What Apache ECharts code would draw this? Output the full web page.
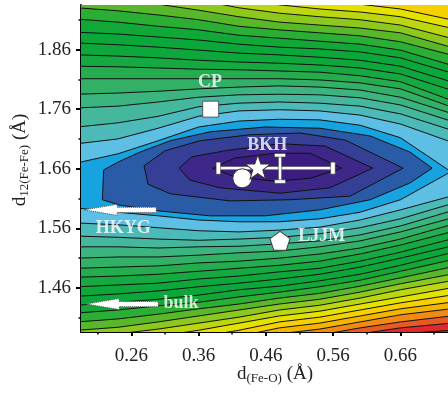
<!DOCTYPE html>
<html><head><meta charset="utf-8">
<script src="https://cdn.jsdelivr.net/npm/echarts@6/dist/echarts.min.js"></script>
<style>html,body{margin:0;padding:0;background:#fff}#c{width:448px;height:393px}</style>
</head><body><div id="c"></div>
<script>
// ---- data ----
const xCols = [0.18, 0.24, 0.30, 0.36, 0.42, 0.48, 0.54, 0.60, 0.66, 0.735];
// open contour levels k=5..21, upper branch (above the minimum), y at xCols
const upperLines = [
 [1.670,1.685,1.707,1.730,1.740,1.743,1.742,1.733,1.712,1.655],
 [1.702,1.710,1.728,1.748,1.757,1.759,1.757,1.750,1.735,1.705],
 [1.730,1.737,1.748,1.764,1.770,1.772,1.770,1.765,1.752,1.725],
 [1.762,1.765,1.772,1.780,1.784,1.785,1.784,1.779,1.767,1.740],
 [1.785,1.787,1.790,1.794,1.797,1.799,1.797,1.792,1.780,1.753],
 [1.811,1.811,1.811,1.811,1.811,1.811,1.809,1.804,1.794,1.764],
 [1.832,1.831,1.829,1.827,1.826,1.824,1.822,1.816,1.806,1.775],
 [1.851,1.849,1.846,1.842,1.839,1.837,1.834,1.829,1.819,1.792],
 [1.871,1.868,1.864,1.859,1.854,1.851,1.847,1.842,1.832,1.806],
 [1.889,1.886,1.881,1.876,1.869,1.864,1.861,1.856,1.846,1.821],
 [1.911,1.906,1.899,1.893,1.884,1.879,1.874,1.869,1.859,1.834],
 [1.930,1.925,1.918,1.910,1.899,1.893,1.888,1.883,1.873,1.851],
 [1.948,1.943,1.936,1.926,1.915,1.906,1.901,1.896,1.888,1.864],
 [1.967,1.962,1.953,1.943,1.930,1.921,1.915,1.910,1.901,1.879],
 [1.985,1.980,1.972,1.960,1.945,1.935,1.928,1.923,1.915,1.896],
 [2.004,1.999,1.990,1.977,1.960,1.950,1.943,1.936,1.928,1.910],
 [2.022,2.017,2.009,1.995,1.978,1.967,1.960,1.953,1.946,1.940]
];
// open contour levels k=5..25, lower branch (below the minimum)
const lowerLines = [
 [1.594,1.587,1.581,1.574,1.571,1.571,1.576,1.587,1.608,1.655],
 [1.569,1.566,1.561,1.556,1.554,1.557,1.562,1.574,1.591,1.614],
 [1.547,1.545,1.542,1.540,1.542,1.545,1.551,1.561,1.576,1.601],
 [1.529,1.529,1.527,1.529,1.530,1.534,1.539,1.549,1.564,1.589],
 [1.510,1.512,1.512,1.515,1.519,1.522,1.529,1.539,1.554,1.577],
 [1.493,1.495,1.497,1.502,1.505,1.510,1.517,1.527,1.542,1.566],
 [1.478,1.480,1.483,1.488,1.493,1.498,1.505,1.517,1.532,1.554],
 [1.462,1.465,1.468,1.475,1.480,1.487,1.493,1.505,1.520,1.542],
 [1.446,1.450,1.455,1.462,1.468,1.475,1.483,1.495,1.510,1.530],
 [1.431,1.436,1.441,1.448,1.457,1.463,1.472,1.483,1.498,1.519],
 [1.418,1.423,1.430,1.436,1.445,1.453,1.462,1.473,1.488,1.507],
 [1.403,1.408,1.416,1.425,1.433,1.443,1.451,1.463,1.477,1.495],
 [1.389,1.394,1.403,1.413,1.423,1.433,1.441,1.453,1.467,1.483],
 [1.376,1.383,1.391,1.401,1.411,1.423,1.431,1.443,1.457,1.472],
 [1.363,1.371,1.379,1.389,1.401,1.413,1.421,1.433,1.445,1.460],
 [1.349,1.358,1.368,1.378,1.389,1.403,1.411,1.423,1.435,1.448],
 [1.336,1.344,1.356,1.366,1.379,1.393,1.401,1.413,1.425,1.436],
 [1.322,1.331,1.342,1.354,1.368,1.383,1.391,1.403,1.415,1.425],
 [1.309,1.319,1.331,1.342,1.356,1.373,1.381,1.393,1.403,1.413],
 [1.295,1.306,1.319,1.331,1.344,1.363,1.371,1.383,1.393,1.401],
 [1.282,1.294,1.307,1.319,1.332,1.352,1.361,1.373,1.383,1.389]
];
// closed contours around the minimum (innermost first)
const contourC1 = [[0.381,1.661],[0.414,1.678],[0.474,1.686],[0.526,1.686],[0.573,1.661],[0.526,1.644],[0.474,1.639],[0.414,1.646]];
const contourC2 = [[0.331,1.661],[0.350,1.680],[0.404,1.691],[0.481,1.702],[0.548,1.698],[0.619,1.661],[0.555,1.628],[0.481,1.619],[0.392,1.628],[0.347,1.641]];
const contourC3 = [[0.279,1.665],[0.310,1.690],[0.362,1.707],[0.436,1.717],[0.511,1.720],[0.578,1.708],[0.664,1.661],[0.585,1.614],[0.496,1.608],[0.407,1.606],[0.318,1.618],[0.285,1.634]];
const contourC4 = [[0.219,1.658],[0.240,1.671],[0.273,1.688],[0.318,1.707],[0.377,1.722],[0.459,1.730],[0.540,1.728],[0.615,1.715],[0.674,1.688],[0.707,1.661],[0.674,1.636],[0.615,1.608],[0.540,1.591],[0.459,1.581],[0.377,1.581],[0.303,1.589],[0.243,1.599],[0.217,1.608]];
const bandColors = ['#3b1c80','#3d2789','#353f96','#2a5ba7','#17a3df','#5dbfe4','#4cbab8','#44b79c','#3bb47f','#32b065','#24ac4f','#16a942','#0ea73c','#0ca73a','#12a837','#2aae33','#58b82a','#8cc81e','#bcd712','#e6e200','#f6d000','#f5b400','#f08a14','#e95a22','#e2282c','#dc1830'];

const xTicks = [0.26, 0.36, 0.46, 0.56, 0.66];
const xMinorTicks = [0.21, 0.31, 0.41, 0.51, 0.61, 0.71];
const yTicks = [1.46, 1.56, 1.66, 1.76, 1.86];
const yMinorTicks = [1.41, 1.51, 1.61, 1.71, 1.81, 1.91];

const cpPoint = [0.378, 1.760];
const bkhPoint = [0.448, 1.663];
const circlePoint = [0.425, 1.644];
const ljjmPoint = [0.481, 1.539];
const errCenter = [0.481, 1.661];
const errXRange = [0.389, 0.560];
const errYRange = [1.638, 1.683];
const arrowY = [1.591, 1.433];
const arrowTipX = [0.190, 0.193];
const arrowTailX = [0.297, 0.300];
const labelNames = ['CP', 'BKH', 'HKYG', 'LJJM', 'bulk'];
const labelX = [0.377, 0.462, 0.248, 0.543, 0.334];
const labelY = [1.805, 1.700, 1.560, 1.547, 1.435];

// ---- build polygons ----
const X0 = xCols[0], X1 = xCols[xCols.length - 1];
const fillPolys = [];
fillPolys.push({pts: [[X0, 1.2], [X1, 1.2], [X1, 2.1], [X0, 2.1]], color: bandColors[25]});
for (let li = lowerLines.length - 1; li >= 0; li--) {
  const k = li + 5;
  let up;
  if (li < upperLines.length) up = xCols.map((x, i) => [x, upperLines[li][i]]);
  else up = [[X0, 2.1], [X1, 2.1]];
  const lo = xCols.map((x, i) => [x, lowerLines[li][i]]).reverse();
  fillPolys.push({pts: up.concat(lo), color: bandColors[k - 1]});
}
[contourC4, contourC3, contourC2, contourC1].forEach((c, j) => fillPolys.push({pts: c, color: bandColors[3 - j]}));

const strokeLines = [];
upperLines.forEach(l => strokeLines.push({pts: xCols.map((x, i) => [x, l[i]]), closed: false}));
lowerLines.forEach(l => strokeLines.push({pts: xCols.map((x, i) => [x, l[i]]), closed: false}));
[contourC1, contourC2, contourC3, contourC4].forEach(c => strokeLines.push({pts: c, closed: true}));

const serif = 'Liberation Serif, Times New Roman, serif';
const chart = echarts.init(document.getElementById('c'), null, {renderer: 'canvas'});
const xMin = 0.1853, xMax = 0.7306, yMin = 1.3861, yMax = 1.9347;

const starPath = 'path://M50 0 L61.8 33.8 L97.6 34.5 L69 56.2 L79.4 90.5 L50 70 L20.6 90.5 L31 56.2 L2.4 34.5 L38.2 33.8 Z';
const pentPath = 'path://M50 0 L97.6 34.5 L79.4 90.5 L20.6 90.5 L2.4 34.5 Z';

chart.setOption({
  animation: false,
  grid: {left: 81, top: 5, width: 367, height: 327, containLabel: false},
  xAxis: [
    {type: 'value', min: xMin, max: xMax, position: 'bottom',
     axisLine: {show: true, onZero: false, lineStyle: {color: '#000', width: 2}},
     axisTick: {show: true, customValues: xTicks, length: 4, lineStyle: {color: '#000', width: 2}},
     axisLabel: {customValues: xTicks, fontFamily: serif, fontSize: 19, color: '#222', margin: 15, formatter: v => v.toFixed(2)},
     splitLine: {show: false}},
    {type: 'value', min: xMin, max: xMax, position: 'bottom',
     axisLine: {show: false, onZero: false},
     axisTick: {show: true, customValues: xMinorTicks, length: 2.5, lineStyle: {color: '#000', width: 1.5}},
     axisLabel: {show: false}, splitLine: {show: false}},
    {type: 'value', min: xMin, max: xMax, position: 'top',
     axisLine: {show: true, onZero: false, lineStyle: {color: '#555', width: 1}},
     axisTick: {show: false}, axisLabel: {show: false}, splitLine: {show: false}}
  ],
  yAxis: [
    {type: 'value', min: yMin, max: yMax, position: 'left',
     axisLine: {show: true, onZero: false, lineStyle: {color: '#000', width: 2}},
     axisTick: {show: true, customValues: yTicks, length: 5, lineStyle: {color: '#000', width: 2}},
     axisLabel: {customValues: yTicks, fontFamily: serif, fontSize: 19, color: '#222', margin: 10, formatter: v => v.toFixed(2)},
     splitLine: {show: false}},
    {type: 'value', min: yMin, max: yMax, position: 'left',
     axisLine: {show: false, onZero: false},
     axisTick: {show: true, customValues: yMinorTicks, length: 2.5, lineStyle: {color: '#000', width: 1.5}},
     axisLabel: {show: false}, splitLine: {show: false}}
  ],
  graphic: [
    {type: 'text', x: 275, y: 374, z: 100,
     style: {text: '{d|d}{s|(Fe-O)}{d| (Å)}', align: 'center', verticalAlign: 'middle',
       rich: {d: {fontFamily: serif, fontSize: 19, lineHeight: 22, fill: '#222'},
              s: {fontFamily: serif, fontSize: 13, lineHeight: 14, padding: [10, 0, 0, 0], fill: '#222'}}}},
    {type: 'text', x: 20, y: 160, rotation: Math.PI / 2, z: 100,
     style: {text: '{d|d}{s|12(Fe-Fe)}{d| (Å)}', align: 'center', verticalAlign: 'middle',
       rich: {d: {fontFamily: serif, fontSize: 19, lineHeight: 22, fill: '#222'},
              s: {fontFamily: serif, fontSize: 13, lineHeight: 14, padding: [10, 0, 0, 0], fill: '#222'}}}}
  ],
  series: [
    {type: 'custom', coordinateSystem: 'cartesian2d', clip: true, silent: true, z: 1,
     data: fillPolys.map((p, i) => [0.45, 1.66, i]),
     renderItem: (params, api) => {
       const p = fillPolys[params.dataIndex];
       return {type: 'polygon', z2: params.dataIndex,
         shape: {points: p.pts.map(q => api.coord(q))},
         style: {fill: p.color, stroke: null}};
     }},
    {type: 'custom', coordinateSystem: 'cartesian2d', clip: true, silent: true, z: 2,
     data: strokeLines.map((p, i) => [0.45, 1.66, i]),
     renderItem: (params, api) => {
       const p = strokeLines[params.dataIndex];
       return {type: p.closed ? 'polygon' : 'polyline',
         shape: {points: p.pts.map(q => api.coord(q))},
         style: {fill: null, stroke: '#111', lineWidth: 1}};
     }},
    {type: 'custom', coordinateSystem: 'cartesian2d', clip: true, silent: true, z: 3,
     data: arrowY.map((y, i) => [arrowTipX[i], y]),
     renderItem: (params, api) => {
       const i = params.dataIndex;
       const tip = api.coord([arrowTipX[i], arrowY[i]]);
       const tail = api.coord([arrowTailX[i], arrowY[i]]);
       const hl = 33, hh = 5.5, sh = 2.6;
       const pts = [[tip[0], tip[1]], [tip[0] + hl, tip[1] - hh], [tip[0] + hl, tip[1] - sh], [tail[0], tail[1] - sh],
         [tail[0], tail[1] + sh], [tip[0] + hl, tip[1] + sh], [tip[0] + hl, tip[1] + hh]];
       return {type: 'polygon', shape: {points: pts},
         style: {fill: '#fff', stroke: '#555', lineWidth: 1, lineDash: [1, 1]}};
     }},
    {type: 'custom', coordinateSystem: 'cartesian2d', silent: true, z: 4,
     data: [errCenter],
     renderItem: (params, api) => {
       const l = api.coord([errXRange[0], errCenter[1]]);
       const r = api.coord([errXRange[1], errCenter[1]]);
       const t = api.coord([errCenter[0], errYRange[1]]);
       const b = api.coord([errCenter[0], errYRange[0]]);
       const st = {fill: '#fff', stroke: '#444', lineWidth: 0.6};
       return {type: 'group', children: [
         {type: 'rect', shape: {x: l[0], y: l[1] - 1.6, width: r[0] - l[0], height: 3.2}, style: st},
         {type: 'rect', shape: {x: t[0] - 1.6, y: t[1], width: 3.2, height: b[1] - t[1]}, style: st},
         {type: 'rect', shape: {x: l[0] - 2, y: l[1] - 6, width: 4.5, height: 12}, style: st},
         {type: 'rect', shape: {x: r[0] - 2.5, y: r[1] - 6, width: 4.5, height: 12}, style: st},
         {type: 'rect', shape: {x: t[0] - 5.5, y: t[1] - 1.5, width: 11, height: 3.5}, style: st},
         {type: 'rect', shape: {x: b[0] - 5.5, y: b[1] - 2, width: 11, height: 3.5}, style: st}
       ]};
     }},
    {type: 'scatter', z: 5, data: [cpPoint], symbol: 'rect', symbolSize: 16,
     itemStyle: {color: '#fff', borderColor: '#555', borderWidth: 1, opacity: 1}},
    {type: 'scatter', z: 5, data: [circlePoint], symbol: 'circle', symbolSize: 19,
     itemStyle: {color: '#fff', borderColor: '#333', borderWidth: 1, opacity: 1}},
    {type: 'scatter', z: 6, data: [bkhPoint], symbol: starPath, symbolSize: [25, 24],
     itemStyle: {color: '#fff', borderColor: '#333', borderWidth: 1, opacity: 1}},
    {type: 'scatter', z: 5, data: [ljjmPoint], symbol: pentPath, symbolSize: [20, 19],
     itemStyle: {color: '#fff', borderColor: '#444', borderWidth: 1, opacity: 1}},
    {type: 'scatter', z: 7, symbol: 'circle', symbolSize: 1, itemStyle: {color: 'rgba(0,0,0,0)'},
     data: labelNames.map((n, i) => ({name: n, value: [labelX[i], labelY[i]]})),
     label: {show: true, position: 'inside', formatter: p => p.name, color: '#fff',
       fontFamily: serif, fontWeight: 'bold', fontSize: 18}}
  ]
});
</script></body></html>
